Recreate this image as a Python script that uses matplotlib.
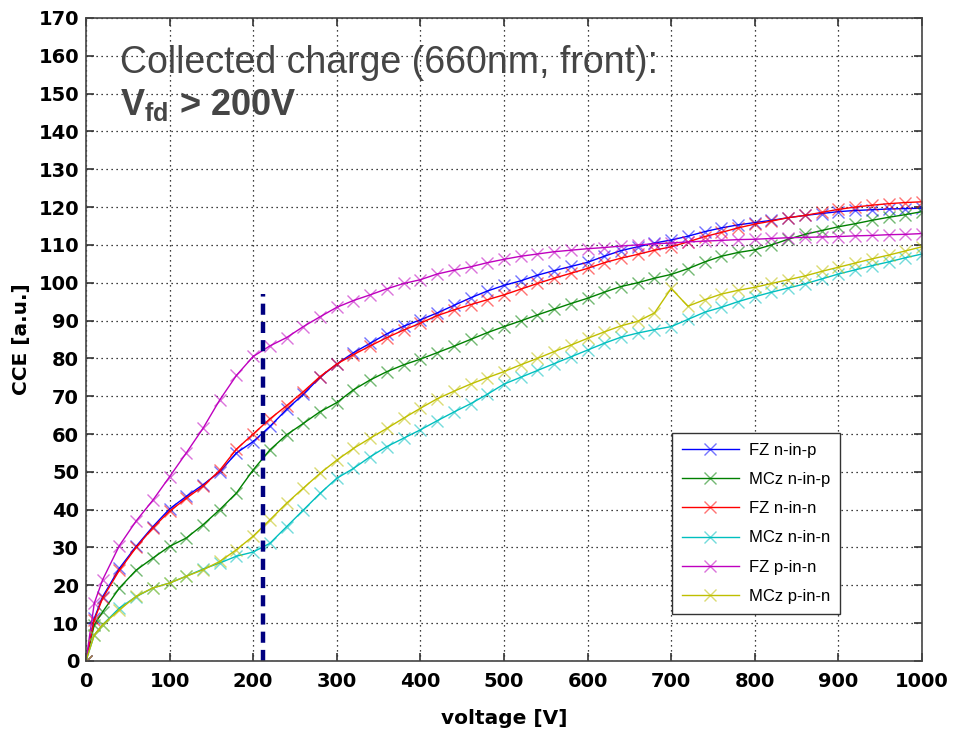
import numpy as np
import matplotlib
matplotlib.use('Agg')
import matplotlib.pyplot as plt

plt.rcParams['font.family'] = ['Liberation Sans', 'DejaVu Sans']
plt.rcParams['mathtext.fontset'] = 'custom'
plt.rcParams['mathtext.rm'] = 'Liberation Sans'
plt.rcParams['mathtext.bf'] = 'Liberation Sans:bold'

# voltage [V]
voltage = [0, 10] + list(range(20, 1001, 20))

# CCE [a.u.]
fz_n_in_p = [0, 11.3, 17, 24.5, 30.3, 35.5, 40.2, 43.5, 46.6, 50, 55, 58, 62, 66.5, 70.5, 75,
             78.5, 81.5, 84, 86.5, 88.5, 90.2, 92, 94, 96, 97.8, 99.3, 100.5, 102, 103.2, 104.3,
             105.4, 107, 108.5, 109.5, 110.5, 111.3, 112.3, 113.5, 114.5, 115.3, 115.9, 116.5,
             117.2, 117.8, 118.3, 118.8, 119.1, 119.3, 119.5, 119.6, 119.7]
mcz_n_in_p = [0, 9.6, 13, 19.3, 24, 27.2, 30.3, 32.5, 36, 40, 44.4, 50.5, 55.8, 59.8, 62.8, 65.9,
              68.3, 71.7, 74.3, 76.5, 78.3, 79.8, 81.5, 83.2, 85, 86.8, 88.4, 89.9, 91.5, 93, 94.5,
              95.9, 97.5, 99, 100, 101.2, 102.2, 103.7, 105.5, 107, 108, 108.7, 110, 111.5, 112.8,
              113.8, 114.8, 115.6, 116.5, 117.3, 118, 118.8]
fz_n_in_n = [0, 10.9, 16.6, 24, 30, 35.2, 39.6, 43, 46.2, 50.4, 56, 60, 64, 67.5, 71.2, 75.2,
             78.5, 81, 83.3, 85.5, 87.5, 89.3, 91.3, 92.8, 94.2, 95.5, 96.8, 98.3, 99.8, 101.2,
             102.5, 103.8, 105.3, 106.5, 107.5, 108.6, 109.5, 110.8, 112.2, 113.3, 114.5, 115.5,
             116.3, 117.2, 117.8, 118.6, 119.4, 120, 120.5, 120.9, 121.2, 121.4]
mcz_n_in_n = [0, 6.9, 9.6, 14, 17, 19.3, 20.6, 22.4, 24.3, 25.9, 27.7, 28.8, 31.1, 35.5, 39.9,
              44.3, 48.3, 50.9, 54, 56.7, 58.9, 61.1, 63.5, 65.8, 68, 70.5, 73.2, 75, 76.8, 78.6,
              80.4, 82.2, 84, 85.6, 86.7, 87.6, 88.4, 90.3, 92.2, 93.5, 95, 96.3, 97.5, 98.6, 99.7,
              101, 102.3, 103.4, 104.5, 105.5, 106.6, 107.6]
fz_p_in_n = [0, 15.3, 21.5, 30.5, 37, 42.5, 48.7, 55, 61.5, 69, 75.5, 80.5, 83.3, 85.5, 88.4, 91,
             93.5, 95.3, 96.8, 98.4, 99.8, 100.8, 102.3, 103.3, 104.2, 105.3, 106.2, 107, 107.6,
             108.2, 108.6, 109, 109.3, 109.7, 110, 110.3, 110.5, 110.8, 111, 111.2, 111.4, 111.5,
             111.7, 111.9, 112, 112.1, 112.2, 112.4, 112.5, 112.7, 112.8, 113]
mcz_p_in_n = [0, 6.9, 9.6, 13.5, 17.1, 19.3, 20.6, 22.4, 24.1, 26.3, 29.4, 33, 37.3, 41.7, 45.7,
              49.6, 53.1, 56.2, 58.9, 61.5, 64.2, 66.8, 69.3, 71.3, 73.2, 74.9, 76.5, 78.3, 80,
              81.8, 83.5, 85.3, 87, 88.6, 89.8, 92, 98.5, 93.8, 95.5, 97, 98, 98.8, 99.8, 100.8,
              101.8, 103, 104.1, 105.2, 106.3, 107.3, 108.4, 109.5]

series = [
    ('FZ n-in-p', fz_n_in_p, (0, 0, 1)),
    ('MCz n-in-p', mcz_n_in_p, (0, 0.5, 0)),
    ('FZ n-in-n', fz_n_in_n, (1, 0, 0)),
    ('MCz n-in-n', mcz_n_in_n, (0, 0.75, 0.75)),
    ('FZ p-in-n', fz_p_in_n, (0.75, 0, 0.75)),
    ('MCz p-in-n', mcz_p_in_n, (0.75, 0.75, 0)),
]

fig = plt.figure(figsize=(9.55, 7.4), dpi=100)
ax = fig.add_axes([0.090, 0.1068, 0.8754, 0.8689])

for label, vals, col in series:
    ax.plot(voltage, vals, color=col, linewidth=1.0, marker='x', markersize=8,
            markeredgewidth=1.0, markeredgecolor=col + (0.55,), label=label)

# full depletion marker
ax.plot([212, 212], [0, 97], color=(0, 0, 0.5), linewidth=3.2, linestyle=(0, (2.5, 1.6)))

ax.set_xlim(0, 1000)
ax.set_ylim(0, 170)
ax.set_xticks(np.arange(0, 1001, 100))
ax.set_yticks(np.arange(0, 171, 10))
ax.grid(True, linestyle=(0, (1, 3)), color='black', linewidth=0.9)
ax.tick_params(direction='in', length=6, width=1.2, top=True, right=True,
               colors='#333333', labelcolor='black')
ax.tick_params(axis='x', pad=8)
ax.tick_params(axis='y', pad=5)
for t in ax.get_xticklabels() + ax.get_yticklabels():
    t.set_fontfamily('DejaVu Sans')
    t.set_fontweight('bold')
    t.set_fontsize(14)
for s in ax.spines.values():
    s.set_color('#444444')
    s.set_linewidth(1.2)

ax.set_xlabel('voltage [V]', fontsize=14.5, fontweight='bold', family='DejaVu Sans', labelpad=13)
ax.set_ylabel('CCE [a.u.]', fontsize=14.5, fontweight='bold', family='DejaVu Sans', labelpad=5)

ax.text(40.5, 155.5, 'Collected charge (660nm, front):', fontsize=27, color='#454545',
        va='baseline', ha='left')
ax.text(40.5, 144.4, r'$\mathbf{V}_{\mathbf{fd}}$ > 200V', fontsize=26, color='#454545',
        fontweight='bold', va='baseline', ha='left')

leg = ax.legend(loc='upper left', bbox_to_anchor=(0.7037, 0.4149), bbox_transform=fig.transFigure,
                borderaxespad=0, fontsize=12, frameon=True, fancybox=False, framealpha=1,
                edgecolor='#333333', handlelength=3.4, borderpad=0.6, labelspacing=0.85,
                handletextpad=0.6)
leg.get_frame().set_linewidth(1.0)

fig.savefig('out.png', dpi=100)
